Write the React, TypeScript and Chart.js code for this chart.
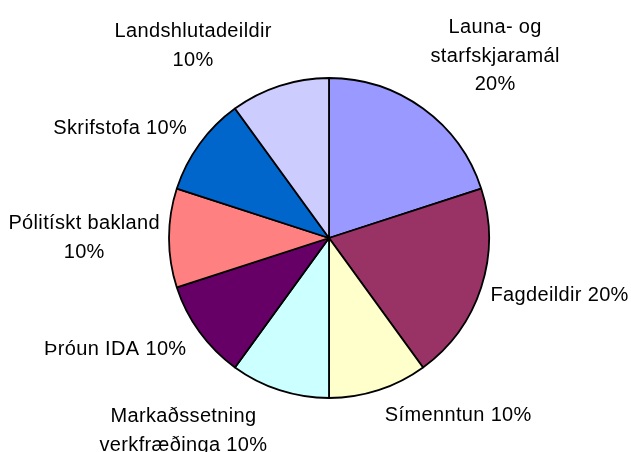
import React, { useEffect, useRef } from "react";
import { Chart, registerables } from "chart.js";

Chart.register(...registerables);

const categories: string[][] = [
  ["Launa- og", "starfskjaramál", "20%"],
  ["Fagdeildir 20%"],
  ["Símenntun 10%"],
  ["Markaðssetning", "verkfræðinga 10%"],
  ["Þróun IDA 10%"],
  ["Pólitískt bakland", "10%"],
  ["Skrifstofa 10%"],
  ["Landshlutadeildir", "10%"],
];
const values: number[] = [20, 20, 10, 10, 10, 10, 10, 10];
const colors: string[] = [
  "#9999FF",
  "#993366",
  "#FFFFCC",
  "#CCFFFF",
  "#660066",
  "#FF8080",
  "#0066CC",
  "#CCCCFF",
];
// label nudges (layout only, px)
const labelNudge: [number, number][] = [
  [30, -15],
  [6, -2],
  [55, 2],
  [-68, 4],
  [-21, 1.5],
  [-2, -3],
  [-19.5, -5.5],
  [-60, -9],
];

const FONT = '20px "Liberation Sans", Arial, sans-serif';
const LINE_H = 28.5;

const labelPlugin = {
  id: "outsideLabels",
  afterDatasetsDraw(chart: any) {
    const ctx = chart.ctx as CanvasRenderingContext2D;
    const meta = chart.getDatasetMeta(0);
    ctx.save();
    ctx.font = FONT;
    (ctx as any).letterSpacing = "0.35px";
    ctx.fillStyle = "#000";
    ctx.textAlign = "center";
    ctx.textBaseline = "middle";
    meta.data.forEach((arc: any, i: number) => {
      const lines = categories[i];
      const mid = (arc.startAngle + arc.endAngle) / 2;
      const ux = Math.cos(mid);
      const uy = Math.sin(mid);
      const w = Math.max(...lines.map((l) => ctx.measureText(l).width));
      const h = lines.length * LINE_H;
      const d = arc.outerRadius + 7;
      const cx = arc.x + d * ux + (w / 2) * ux + labelNudge[i][0];
      const cy = arc.y + d * uy + (h / 2) * uy + labelNudge[i][1];
      lines.forEach((l, j) => {
        const y = cy - h / 2 + LINE_H * (j + 0.5);
        ctx.fillText(l, cx, y + 3);
      });
    });
    ctx.restore();
  },
};

export default function App() {
  const ref = useRef<HTMLCanvasElement>(null);
  useEffect(() => {
    if (!ref.current) return;
    const chart = new Chart(ref.current, {
      type: "pie",
      data: {
        labels: categories.map((c) => c.join(" ")),
        datasets: [
          {
            data: values,
            backgroundColor: colors,
            borderColor: "#000000",
            borderWidth: 1.8,
            radius: 160,
          } as any,
        ],
      },
      options: {
        animation: false,
        responsive: false,
        maintainAspectRatio: false,
        layout: { padding: { left: 27, top: 24, right: 0, bottom: 0 } },
        plugins: {
          legend: { display: false },
          tooltip: { enabled: false },
        },
      },
      plugins: [labelPlugin],
    });
    return () => chart.destroy();
  }, []);
  return (
    <div style={{ position: "fixed", left: 0, top: 0, width: 631, height: 452, background: "#fff" }}>
      <canvas ref={ref} width={631} height={452} style={{ width: 631, height: 452 }} />
    </div>
  );
}
